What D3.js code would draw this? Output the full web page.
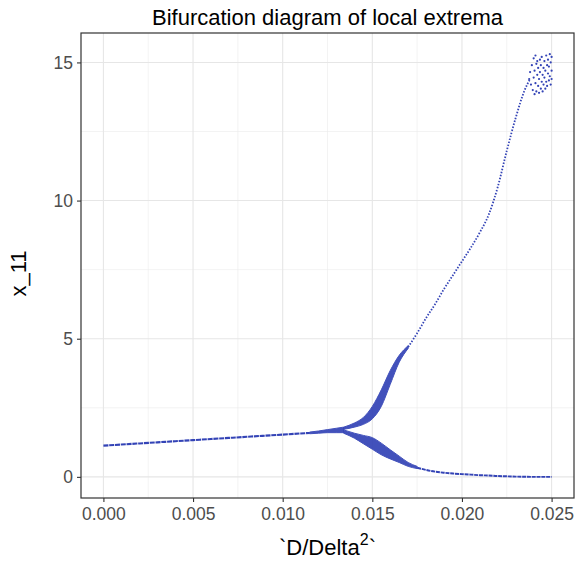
<!DOCTYPE html>
<html>
<head>
<meta charset="utf-8">
<script src="https://cdn.jsdelivr.net/npm/d3@7"></script>
<style>
  html, body { margin: 0; padding: 0; background: #ffffff; }
  svg { display: block; font-family: "Liberation Sans", Arial, sans-serif; }
</style>
</head>
<body>
<svg id="chart" width="580" height="561"></svg>
<script>
// ---------------- data ----------------
const xTicks = [0.000, 0.005, 0.010, 0.015, 0.020, 0.025];
const xTickLabels = ["0.000", "0.005", "0.010", "0.015", "0.020", "0.025"];
const yTicks = [0, 5, 10, 15];
const yTickLabels = ["0", "5", "10", "15"];

// single branch before the split
const stemX = [0, 0.001, 0.002, 0.003, 0.004, 0.005, 0.006, 0.007, 0.008, 0.009, 0.010, 0.011, 0.0115];
const stemY = [1.13, 1.17, 1.21, 1.25, 1.29, 1.33, 1.37, 1.41, 1.45, 1.49, 1.53, 1.57, 1.59];

// widened band before the fork
const preBandX = [0.0115, 0.012, 0.0125, 0.013, 0.0134];
const preBandTop = [1.62, 1.66, 1.71, 1.76, 1.80];
const preBandBot = [1.56, 1.58, 1.60, 1.60, 1.60];

// upper band after the fork
const upBandX = [0.0134, 0.014, 0.0145, 0.015, 0.0155, 0.016, 0.0165, 0.017];
const upBandTop = [1.80, 1.95, 2.15, 2.55, 3.15, 3.85, 4.40, 4.75];
const upBandBot = [1.72, 1.80, 1.90, 2.10, 2.55, 3.35, 4.15, 4.65];

// lower band after the fork
const loBandX = [0.0134, 0.014, 0.0145, 0.015, 0.0155, 0.016, 0.0165, 0.017, 0.0175];
const loBandTop = [1.70, 1.58, 1.50, 1.42, 1.22, 0.98, 0.75, 0.52, 0.38];
const loBandBot = [1.58, 1.40, 1.20, 1.00, 0.80, 0.65, 0.52, 0.38, 0.30];

// upper single branch
const upLineX = [0.017, 0.0175, 0.018, 0.0185, 0.019, 0.0195, 0.020, 0.0205, 0.021, 0.0215, 0.022, 0.0225, 0.023, 0.0235, 0.0238];
const upLineY = [4.70, 5.20, 5.75, 6.25, 6.80, 7.30, 7.80, 8.30, 8.85, 9.50, 10.50, 11.80, 13.00, 14.00, 14.40];

// lower single branch
const loLineX = [0.0175, 0.018, 0.0185, 0.019, 0.0195, 0.020, 0.0205, 0.021, 0.0215, 0.022, 0.0225, 0.023, 0.024, 0.025];
const loLineY = [0.33, 0.25, 0.19, 0.15, 0.12, 0.10, 0.08, 0.06, 0.05, 0.03, 0.02, 0.01, 0.00, 0.00];

// chaotic cloud at the right end
const cloudX = [0.02375, 0.02380, 0.02385, 0.02390, 0.02395, 0.02400, 0.02400, 0.02405, 0.02405, 0.02410,
                0.02410, 0.02415, 0.02415, 0.02420, 0.02420, 0.02425, 0.02425, 0.02430, 0.02430, 0.02435,
                0.02435, 0.02440, 0.02440, 0.02445, 0.02445, 0.02450, 0.02450, 0.02455, 0.02455, 0.02460,
                0.02460, 0.02465, 0.02465, 0.02470, 0.02470, 0.02475, 0.02475, 0.02480, 0.02480, 0.02485,
                0.02485, 0.02490, 0.02490, 0.02495, 0.02495, 0.02500, 0.02500, 0.02500];
const cloudY = [14.40, 14.65, 14.20, 14.90, 14.00, 15.15, 14.45, 13.85, 14.70, 15.25,
                14.25, 14.95, 13.95, 14.55, 15.05, 14.15, 14.80, 13.90, 14.40, 15.10,
                14.65, 14.05, 14.90, 14.30, 15.20, 14.55, 13.95, 14.80, 14.20, 15.05,
                14.45, 14.05, 14.70, 15.25, 14.30, 14.90, 14.15, 14.60, 15.10, 14.35,
                14.85, 15.30, 14.50, 14.20, 15.00, 14.70, 15.20, 14.40];

// ---------------- layout ----------------
const W = 580, H = 561;
const panel = { left: 81, right: 574, top: 33, bottom: 498 };
const ptColor = "#3343b6";

const x = d3.scaleLinear().domain([-0.00125, 0.02625]).range([panel.left, panel.right]);
const y = d3.scaleLinear().domain([-0.765, 16.065]).range([panel.bottom, panel.top]);

const svg = d3.select("#chart");
svg.append("rect").attr("width", W).attr("height", H).attr("fill", "#fff");

const clipId = "panelClip";
svg.append("clipPath").attr("id", clipId).append("rect")
  .attr("x", panel.left).attr("y", panel.top)
  .attr("width", panel.right - panel.left).attr("height", panel.bottom - panel.top);

// grid: minor then major
const gGrid = svg.append("g");
const xMinor = d3.range(0, 5).map(i => xTicks[i] + 0.0025);
const yMinor = [2.5, 7.5, 12.5];
gGrid.selectAll(".xmin").data(xMinor).join("line")
  .attr("x1", d => x(d)).attr("x2", d => x(d)).attr("y1", panel.top).attr("y2", panel.bottom)
  .attr("stroke", "#ebebeb").attr("stroke-width", 0.6);
gGrid.selectAll(".ymin").data(yMinor).join("line")
  .attr("y1", d => y(d)).attr("y2", d => y(d)).attr("x1", panel.left).attr("x2", panel.right)
  .attr("stroke", "#ebebeb").attr("stroke-width", 0.6);
gGrid.selectAll(".xmaj").data(xTicks).join("line")
  .attr("x1", d => x(d)).attr("x2", d => x(d)).attr("y1", panel.top).attr("y2", panel.bottom)
  .attr("stroke", "#e6e6e6").attr("stroke-width", 1.1);
gGrid.selectAll(".ymaj").data(yTicks).join("line")
  .attr("y1", d => y(d)).attr("y2", d => y(d)).attr("x1", panel.left).attr("x2", panel.right)
  .attr("stroke", "#e6e6e6").attr("stroke-width", 1.1);

// data marks
const gData = svg.append("g").attr("clip-path", `url(#${clipId})`);
const line = d3.line().x(d => x(d[0])).y(d => y(d[1])).curve(d3.curveMonotoneX);
const area = d3.area().x(d => x(d[0])).y0(d => y(d[2])).y1(d => y(d[1])).curve(d3.curveMonotoneX);

function drawBand(xs, top, bot) {
  const pts = xs.map((v, i) => [v, top[i], bot[i]]);
  gData.append("path").attr("d", area(pts)).attr("fill", ptColor).attr("stroke", ptColor)
    .attr("stroke-width", 1.0).attr("opacity", 0.92);
}
function drawLine(xs, ys, width, dash) {
  const pts = xs.map((v, i) => [v, ys[i]]);
  gData.append("path").attr("d", line(pts)).attr("fill", "none").attr("stroke", ptColor)
    .attr("stroke-width", width).attr("stroke-dasharray", dash);
}

drawLine(stemX, stemY, 2.1, "5,0.8");
drawBand(preBandX, preBandTop, preBandBot);
drawBand(upBandX, upBandTop, upBandBot);
drawBand(loBandX, loBandTop, loBandBot);
drawLine(loLineX, loLineY, 1.9, "4,0.8");
drawLine(upLineX, upLineY, 1.8, "1.5,1.6");

gData.selectAll(".cloud").data(cloudX.map((v, i) => [v, cloudY[i]])).join("circle")
  .attr("cx", d => x(d[0])).attr("cy", d => y(d[1])).attr("r", 1.1).attr("fill", ptColor);

// panel border
svg.append("rect").attr("x", panel.left).attr("y", panel.top)
  .attr("width", panel.right - panel.left).attr("height", panel.bottom - panel.top)
  .attr("fill", "none").attr("stroke", "#333333").attr("stroke-width", 1.2);

// axes
const tickColor = "#333333", labColor = "#4d4d4d";
const gx = svg.append("g").attr("transform", `translate(0,${panel.bottom})`)
  .call(d3.axisBottom(x).tickValues(xTicks).tickFormat((d, i) => xTickLabels[i]).tickSize(4).tickPadding(6));
const gy = svg.append("g").attr("transform", `translate(${panel.left},0)`)
  .call(d3.axisLeft(y).tickValues(yTicks).tickFormat((d, i) => yTickLabels[i]).tickSize(4).tickPadding(4));
[gx, gy].forEach(g => {
  g.select(".domain").remove();
  g.selectAll(".tick line").attr("stroke", tickColor).attr("stroke-width", 1.1);
  g.selectAll(".tick text").attr("fill", labColor).attr("font-size", 17.5)
    .attr("font-family", "Liberation Sans, Arial, sans-serif");
});

// title
svg.append("text").attr("x", (panel.left + panel.right) / 2).attr("y", 25)
  .attr("text-anchor", "middle").attr("font-size", 22).attr("fill", "#000")
  .text("Bifurcation diagram of local extrema");

// x axis title with superscript
const xt = svg.append("text").attr("x", (panel.left + panel.right) / 2).attr("y", 555)
  .attr("text-anchor", "middle").attr("font-size", 22).attr("fill", "#000");
xt.append("tspan").text("`D/Delta");
xt.append("tspan").attr("font-size", 16).attr("dy", -10).text("2");
xt.append("tspan").attr("dy", 10).text("`");

// y axis title
svg.append("text").attr("transform", `translate(26,${(panel.top + panel.bottom) / 2 + 8}) rotate(-90)`)
  .attr("text-anchor", "middle").attr("font-size", 22).attr("fill", "#000")
  .text("x_11");
</script>
</body>
</html>
